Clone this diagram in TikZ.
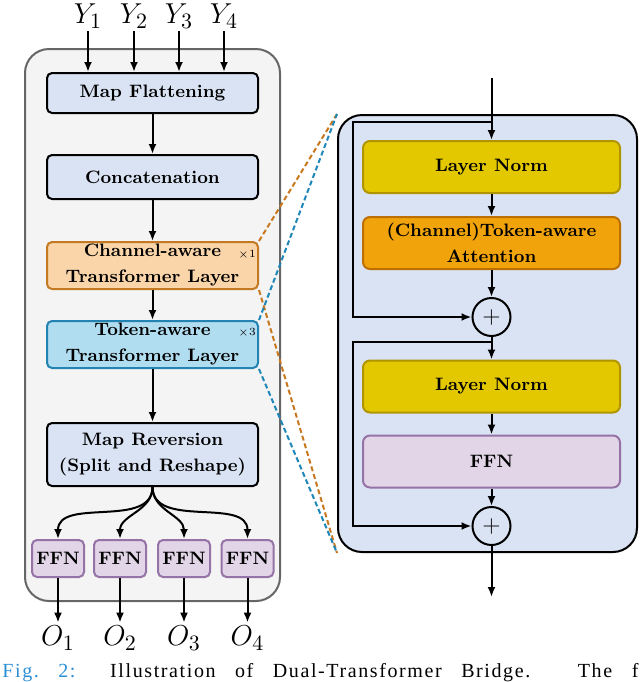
\documentclass[tikz,border=0pt]{standalone}
\usepackage{amsmath,amsfonts}
\usepackage{fontspec}
\usepackage{tikz}
\usetikzlibrary{positioning}
\usetikzlibrary{arrows.meta}
\newfontfamily\capfont[LetterSpace=8]{Liberation Serif}
\definecolor{panelgray}{HTML}{F4F4F4}
\definecolor{paneledge}{HTML}{666666}
\definecolor{boxblue}{HTML}{DAE3F3}
\definecolor{chanfill}{HTML}{FAD5AA}
\definecolor{chanedge}{HTML}{C47A22}
\definecolor{tokfill}{HTML}{B1DDF0}
\definecolor{tokedge}{HTML}{2384B4}
\definecolor{ffnfill}{HTML}{E1D5E7}
\definecolor{ffnedge}{HTML}{9673A6}
\definecolor{normfill}{HTML}{E3C800}
\definecolor{normedge}{HTML}{B09500}
\definecolor{attnfill}{HTML}{F0A30A}
\definecolor{attnedge}{HTML}{BD7000}
\definecolor{dashorange}{HTML}{C8781E}
\definecolor{dashblue}{HTML}{1F86B8}
\definecolor{figblue}{HTML}{2B8FD6}

\begin{document}
\begin{tikzpicture}[x=0.5pt,y=-0.5pt,
	blk/.style={draw,line width=1pt,rounded corners=2.5pt,fill=boxblue,inner sep=0pt,align=center,font=\fontsize{9}{13}\selectfont\bfseries},
	lwide/.style={minimum width=105.5pt},
	rblk/.style={draw,line width=1pt,rounded corners=3.5pt,inner sep=0pt,align=center,minimum width=128.5pt,minimum height=26pt,font=\fontsize{9}{13}\selectfont\bfseries},
	ffnbox/.style={blk,fill=ffnfill,draw=ffnedge,minimum width=26pt,minimum height=18.5pt},
	addnode/.style={circle,draw,line width=1pt,minimum size=19pt,inner sep=0pt,font=\fontsize{13}{13}\selectfont},
	arr/.style={-{Latex[length=5pt,width=4pt]},line width=1pt},
	dashline/.style={line width=1pt,dash pattern=on 2.5pt off 1.5pt},
	lbl/.style={inner sep=1.5pt,font=\fontsize{15}{17}\selectfont},
	rep/.style={inner sep=0pt,font=\fontsize{5.5}{6}\selectfont}]
	\useasboundingbox (0,0) rectangle (640,682);

	\node[draw=paneledge,fill=panelgray,line width=1pt,rounded corners=12pt,minimum width=127.5pt,minimum height=276pt] (lpanel) at (152.5,325) {};
	\node[draw,fill=boxblue,line width=1pt,rounded corners=12pt,minimum width=149.5pt,minimum height=218.5pt] (rpanel) at (487.5,333.5) {};

	\node[lbl] (y1) at (88,16) {$Y_1$};
	\node[lbl] (y2) at (134,16) {$Y_2$};
	\node[lbl] (y3) at (179,16) {$Y_3$};
	\node[lbl] (y4) at (224,16) {$Y_4$};

	\node[blk,lwide,minimum height=20pt] (mapflat) at (152.5,93) {Map Flattening};
	\node[blk,lwide,minimum height=22pt] (concat) at (152.5,177) {Concatenation};
	\node[blk,lwide,minimum height=23.5pt,fill=chanfill,draw=chanedge] (chan) at (152.5,265.5) {Channel-aware\\Transformer Layer};
	\node[blk,lwide,minimum height=23.5pt,fill=tokfill,draw=tokedge] (tok) at (152.5,344.5) {Token-aware\\Transformer Layer};
	\node[blk,lwide,minimum height=31.5pt] (mrev) at (152.5,454.5) {Map Reversion\\(Split and Reshape)};
	\node[rep] (rep1) at (247,255) {$\times$1};
	\node[rep] (rep3) at (247,333) {$\times$3};

	\node[ffnbox] (ffn1) at (58,558.5) {FFN};
	\node[ffnbox] (ffn2) at (120,558.5) {FFN};
	\node[ffnbox] (ffn3) at (184,558.5) {FFN};
	\node[ffnbox] (ffn4) at (247.5,558.5) {FFN};

	\node[lbl] (o1) at (58,638) {$O_1$};
	\node[lbl] (o2) at (120,638) {$O_2$};
	\node[lbl] (o3) at (184,638) {$O_3$};
	\node[lbl] (o4) at (247.5,638) {$O_4$};

	\draw[arr] (y1.south) -- (y1.south |- mapflat.north);
	\draw[arr] (y2.south) -- (y2.south |- mapflat.north);
	\draw[arr] (y3.south) -- (y3.south |- mapflat.north);
	\draw[arr] (y4.south) -- (y4.south |- mapflat.north);
	\draw[arr] (mapflat) -- (concat);
	\draw[arr] (concat) -- (chan);
	\draw[arr] (chan) -- (tok);
	\draw[arr] (tok) -- (mrev);
	\draw[arr] (mrev.south) to[out=-90,in=90] (ffn1.north);
	\draw[arr] (mrev.south) to[out=-90,in=90] (ffn2.north);
	\draw[arr] (mrev.south) to[out=-90,in=90] (ffn3.north);
	\draw[arr] (mrev.south) to[out=-90,in=90] (ffn4.north);
	\draw[arr] (ffn1) -- (o1);
	\draw[arr] (ffn2) -- (o2);
	\draw[arr] (ffn3) -- (o3);
	\draw[arr] (ffn4) -- (o4);

	\coordinate (rin) at (491.5,78);
	\node[rblk,fill=normfill,draw=normedge] (ln1) at (491.5,167) {Layer Norm};
	\node[rblk,fill=attnfill,draw=attnedge] (attn) at (491.5,243) {(Channel)Token-aware\\Attention};
	\node[addnode] (add1) at (491.5,317) {$+$};
	\node[rblk,fill=normfill,draw=normedge] (ln2) at (491.5,386.5) {Layer Norm};
	\node[rblk,fill=ffnfill,draw=ffnedge] (ffnr) at (491.5,461.5) {FFN};
	\node[addnode] (add2) at (491.5,526) {$+$};
	\coordinate (rout) at (491.5,597);
	\coordinate (skip1) at (491.5,122);
	\coordinate (skip2) at (491.5,342);

	\draw[arr] (rin) -- (ln1);
	\draw[arr] (ln1) -- (attn);
	\draw[arr] (attn) -- (add1);
	\draw[arr] (add1) -- (ln2);
	\draw[arr] (ln2) -- (ffnr);
	\draw[arr] (ffnr) -- (add2);
	\draw[arr] (add2) -- (rout);
	\draw[arr] (skip1) -- (353,122) |- (add1.west);
	\draw[arr] (skip2) -- (353,342) |- (add2.west);

	\draw[dashline,draw=dashorange] (chan.north east) -- (rpanel.north west);
	\draw[dashline,draw=dashorange] (chan.south east) -- (rpanel.south west);
	\draw[dashline,draw=dashblue] (tok.north east) -- (rpanel.north west);
	\draw[dashline,draw=dashblue] (tok.south east) -- (rpanel.south west);

	\node[anchor=base west,inner sep=0pt] (caption) at (2,677) {\makebox[318pt][s]{\capfont\fontsize{10}{12}\selectfont\textcolor{figblue}{Fig.~2:} Illustration of Dual-Transformer Bridge. The f}};
\end{tikzpicture}
\end{document}
